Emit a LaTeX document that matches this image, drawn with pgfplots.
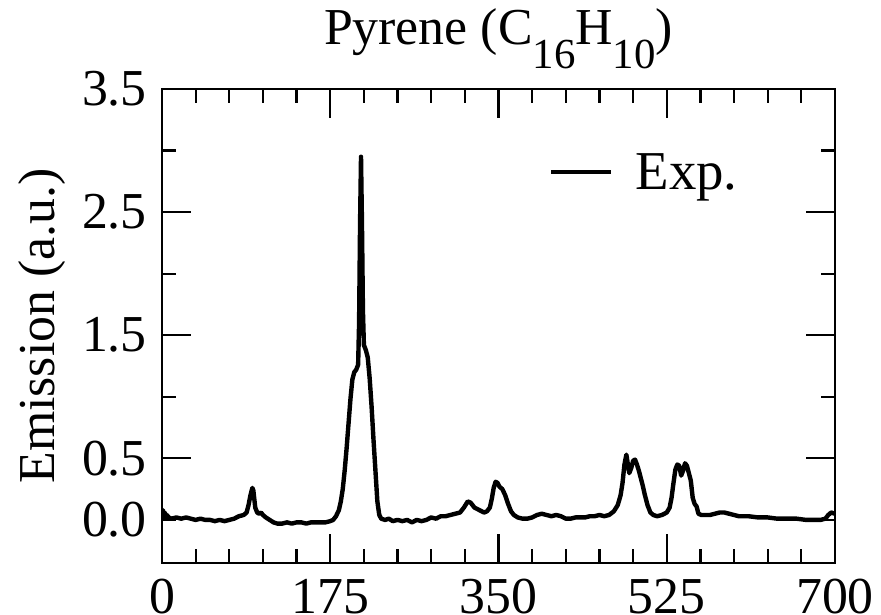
\documentclass[border=0pt]{standalone}
\usepackage{fontspec}
\setmainfont{Liberation Serif}
\usepackage{pgfplots}
\pgfplotsset{compat=1.18}
\newcommand{\bigfont}{\fontsize{52}{60}\selectfont}
\newcommand{\subfont}{\fontsize{43}{50}\selectfont}

\pgfplotstableread{
x y
0 0.03
1 0.08
2 0.02
3 0.06
4 0.01
5 0.04
7 0.02
10 0.01
15 0.02
20 0.01
25 0.02
30 0.01
35 0.00
40 0.01
45 0.00
50 0.00
55 -0.01
60 0.00
65 -0.01
70 0.00
75 0.01
80 0.03
85 0.04
88 0.06
90 0.12
92 0.20
94 0.26
95 0.24
97 0.10
99 0.06
101 0.05
103 0.06
105 0.04
108 0.02
112 0.00
116 -0.02
120 -0.03
125 -0.03
130 -0.02
135 -0.03
140 -0.02
145 -0.02
150 -0.03
155 -0.02
160 -0.02
165 -0.02
170 -0.02
175 -0.01
178 0.00
181 0.03
184 0.08
186 0.15
188 0.25
190 0.40
192 0.58
194 0.78
196 0.98
198 1.14
200 1.20
202 1.22
204 1.26
205 1.60
206 2.40
207 2.95
208 2.40
209 1.70
210 1.42
212 1.38
214 1.32
216 1.15
218 0.92
220 0.65
222 0.40
224 0.15
226 0.04
228 0.01
232 0.00
236 0.01
240 -0.01
245 0.00
250 -0.01
255 0.00
260 -0.02
265 0.00
270 -0.01
275 0.00
280 0.02
285 0.01
290 0.03
295 0.03
300 0.04
305 0.05
310 0.06
314 0.10
318 0.15
321 0.14
325 0.10
330 0.08
335 0.06
338 0.07
341 0.10
343 0.17
345 0.26
347 0.31
349 0.30
351 0.27
354 0.25
357 0.20
360 0.13
363 0.07
366 0.04
370 0.02
375 0.01
380 0.01
385 0.02
390 0.04
395 0.05
400 0.04
405 0.03
410 0.04
415 0.03
420 0.01
425 0.01
430 0.02
435 0.02
440 0.02
445 0.03
450 0.03
455 0.04
460 0.03
465 0.04
470 0.07
474 0.12
477 0.20
479 0.30
481 0.45
483 0.53
484 0.48
486 0.38
488 0.42
490 0.48
492 0.49
494 0.45
496 0.40
498 0.34
500 0.28
502 0.21
505 0.12
508 0.06
511 0.04
515 0.03
520 0.04
525 0.06
528 0.10
530 0.18
532 0.30
534 0.41
536 0.45
538 0.44
540 0.36
542 0.40
544 0.46
546 0.44
548 0.38
550 0.32
552 0.18
554 0.13
556 0.11
558 0.05
561 0.04
565 0.04
570 0.04
575 0.05
580 0.06
585 0.06
590 0.05
595 0.04
600 0.03
610 0.03
620 0.02
630 0.02
640 0.01
650 0.01
660 0.01
670 0.00
680 0.00
685 0.00
690 0.01
693 0.04
696 0.06
700 0.05
}\expdata

\begin{document}
\begin{tikzpicture}
\begin{axis}[
    scale only axis,
    width=673bp, height=474bp,
    xmin=0, xmax=700, ymin=-0.35, ymax=3.5,
    xtick={0,175,350,525,700},
    xticklabels={0,175,350,525,700},
    minor x tick num=4,
    ytick={0.5,1.5,2.5,3.5},
    yticklabels={0.5,1.5,2.5,3.5},
    minor ytick={1,2,3},
    extra y ticks={0},
    extra y tick labels={0.0},
    extra y tick style={major tick length=14bp},
    tick align=inside,
    major tick length=29bp, minor tick length=14bp,
    tick style={black, line width=2.2bp},
    axis line style={line width=2.8bp},
    /pgf/number format/assume math mode=true,
    tick label style={font=\bigfont, inner sep=0pt},
    xticklabel style={anchor=north, yshift=-16bp},
    yticklabel style={anchor=east, xshift=-15bp},
    ylabel={Emission (a.u.)},
    every axis y label/.style={at={(rel axis cs:0,0.5)}, xshift=-107bp,
      rotate=90, anchor=base, font=\bigfont},
    title={Pyrene (C\raisebox{-24bp}{\subfont 16}H\raisebox{-24bp}{\subfont 10})},
    title style={at={(0.5,1)}, anchor=base, yshift=39bp, font=\bigfont},
    legend style={draw=none, fill=none, at={(0.571,0.825)}, anchor=west,
      font=\fontsize{55}{60}\selectfont},
    legend image code/.code={\draw[#1, line width=4bp] (0bp,0bp) -- (60bp,0bp);
      \path (80bp,0bp);},
]
\addplot[black, line width=4.4bp, line join=round] table[x=x, y=y] {\expdata};
\addlegendentry{Exp.}
\end{axis}
\pgfresetboundingbox
\path[use as bounding box] ([xshift=-162bp,yshift=-52bp]current axis.south west)
  rectangle ([xshift=46bp,yshift=89bp]current axis.north east);
\end{tikzpicture}
\end{document}
